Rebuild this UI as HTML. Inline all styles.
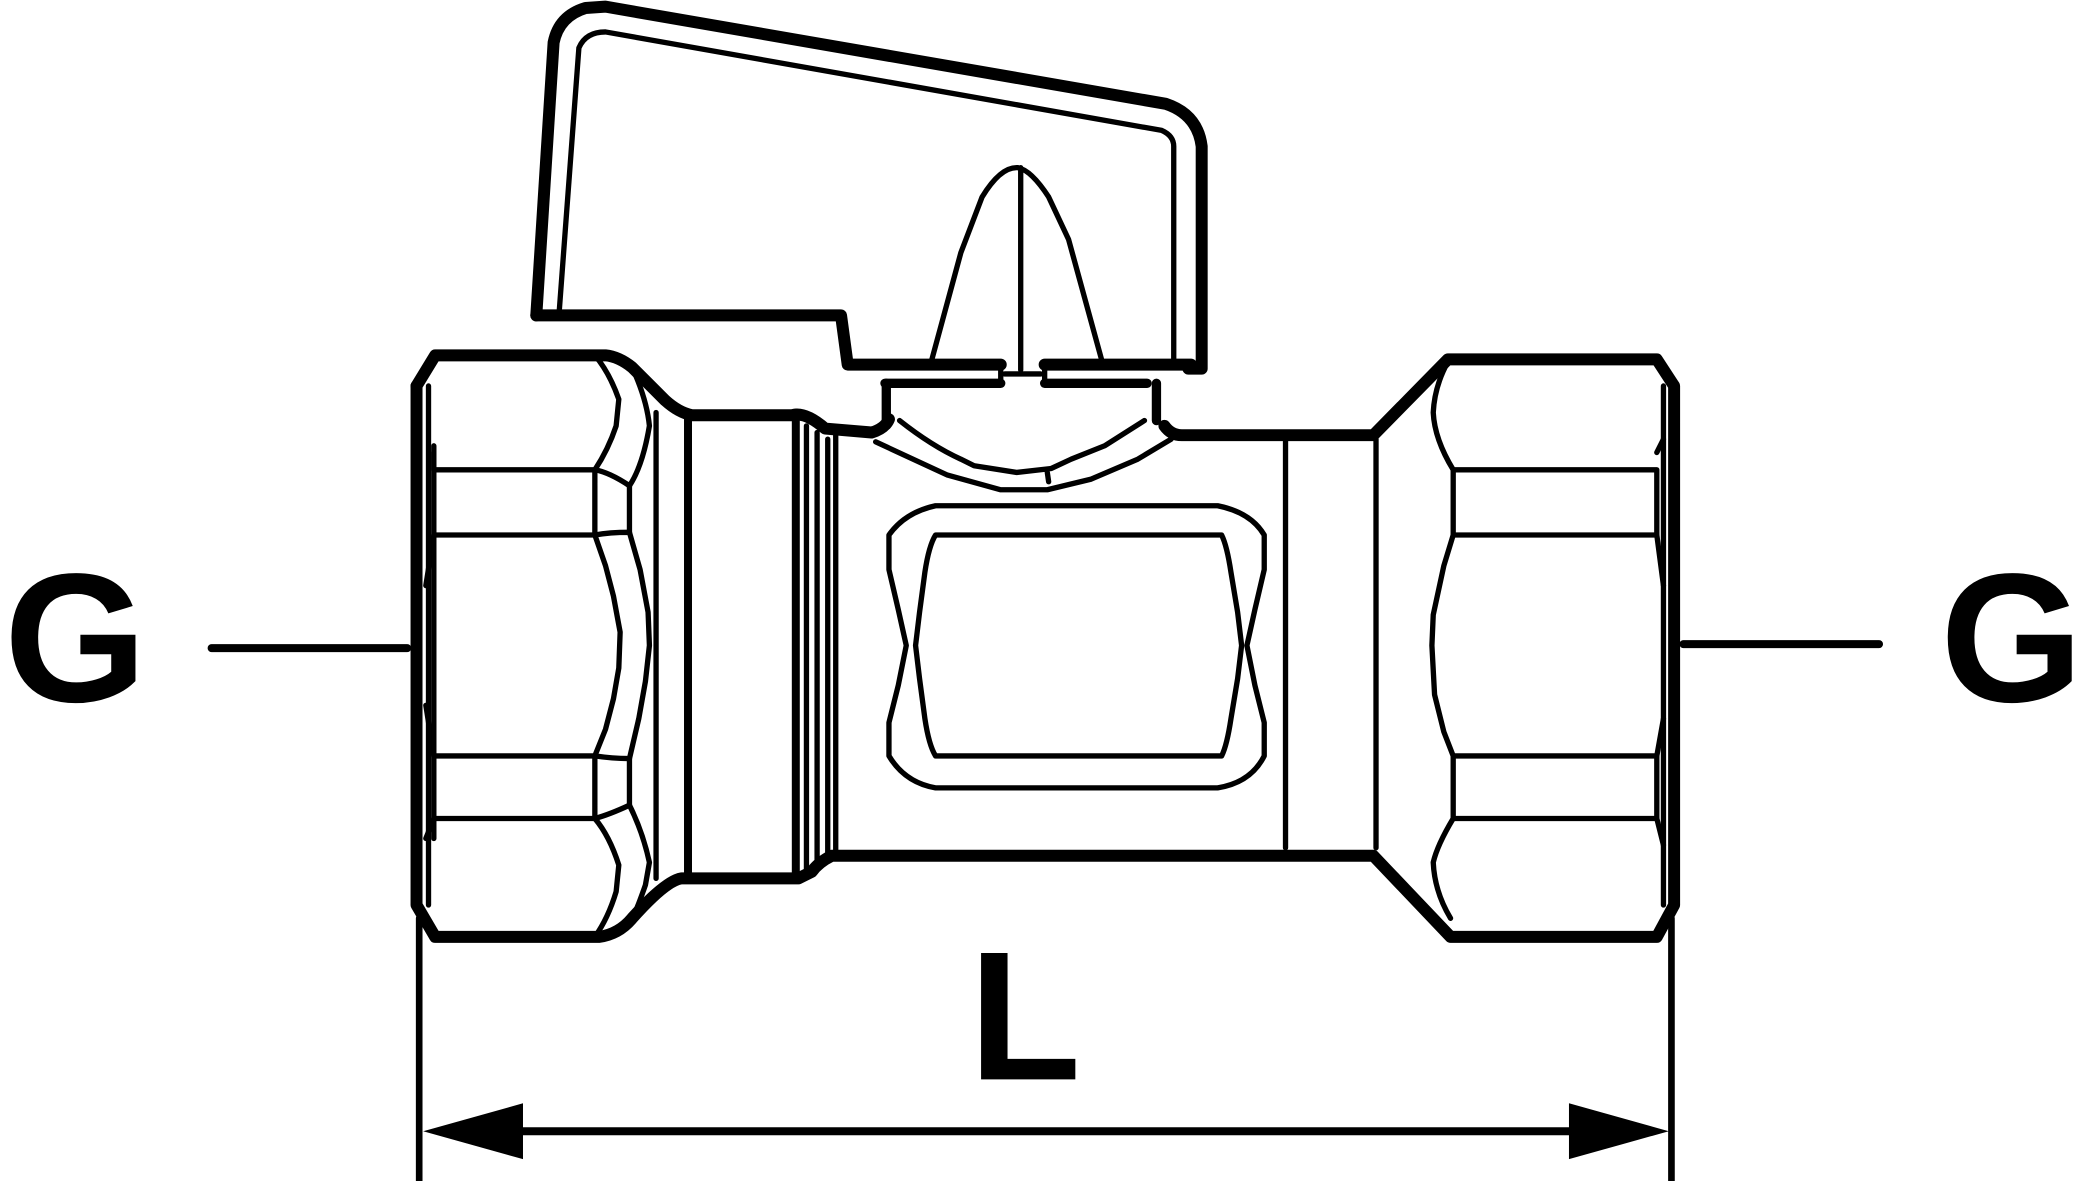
<!DOCTYPE html>
<html><head><meta charset="utf-8"><style>html,body{margin:0;padding:0;background:#fff}svg{display:block}</style></head><body>
<svg width="2076" height="1181" viewBox="0 0 1560 887.4" preserveAspectRatio="none" xmlns="http://www.w3.org/2000/svg">
<g fill="none" stroke="#000" stroke-linejoin="round" stroke-linecap="round">
<!-- handle -->
<path d="M403,237 L416,32 Q420,12 440,6 L455,5 L876,78 Q900,86 903,110 L903,277 L893,277" stroke-width="9"/>
<path d="M403,237 L632,237 L637,274 L752,274 M785,274 L895,274" stroke-width="9"/>
<path d="M420,237 L435,36 Q440,24 455,24 L873,98 Q882,102 882,110 L882,271" stroke-width="4"/>
<path d="M665,288 L752,288 M785,288 L862,288" stroke-width="7"/>
<path d="M752,274 L752,288 M785,274 L785,288 M755,281 L782,281" stroke-width="4"/>
<path d="M666,288 L666,316 M869,288 L869,316" stroke-width="7"/>
<path d="M700,271 L722,190 L738,148 Q752,125 765,126 Q775,128 788,148 L803,180 L828,271 M767,126 L767,278" stroke-width="4"/>
<!-- body outline -->
<path d="M313,290 L327,267 L455,267 Q465,268 475,276 L500,301 Q510,310 520,312 L595,312 Q605,309 620,322 L655,325 Q665,322 668,315" stroke-width="9"/>
<path d="M875,320 Q880,327 888,327 L1032,327 L1088,270 L1245,270 L1258,290 L1258,680 L1245,704 L1090,704 L1032,643 L625,643 Q615,648 610,655 L600,660 L512,660 Q500,662 475,690 Q465,702 450,704 L327,704 L313,680 L313,290" stroke-width="9"/>
<path d="M322,290 L322,680 M1250,290 L1250,680" stroke-width="4"/>
<!-- left nut details -->
<path d="M326,335 L326,630 M326,353 L447,353 M326,402 L447,402 M326,568 L447,568 M326,615 L447,615 M447,353 L447,402 M447,568 L447,615 M473,365 L473,400 M473,570 L473,605 M493,310 L493,660 M606,320 L606,655 M614,325 L614,650 M622,330 L622,645 M628,327 L628,640" stroke-width="4"/>
<path d="M517,310 L517,658 M598,310 L598,660" stroke-width="6"/>
<path d="M447,267 Q458,280 465,300 L463,320 Q457,338 447,353 Q458,355 473,365 Q483,350 488,320 Q486,300 475,276" stroke-width="4"/>
<path d="M447,402 Q458,400 473,400 L481,428 L487,460 L488,485 L485,512 L480,540 L473,570 Q460,570 447,568 L455,548 L461,525 L465,502 L466,475 L461,448 L455,425 Z" stroke-width="4"/>
<path d="M447,615 Q458,612 473,605 Q483,625 488,648 L485,665 Q478,685 475,690 M447,615 Q458,628 465,650 L463,670 Q457,690 447,704" stroke-width="4"/>
<path d="M326,340 L326,353 M326,402 L320,440 M326,568 L320,530 M326,615 L320,630" stroke-width="4"/>
<!-- right nut details -->
<path d="M966,328 L966,637 M1034,330 L1034,637 M1092,353 L1245,353 M1092,402 L1245,402 M1092,568 L1245,568 M1092,615 L1245,615 M1092,353 L1092,402 M1092,568 L1092,615 M1245,353 L1245,402 M1245,568 L1245,615" stroke-width="4"/>
<path d="M1088,272 Q1078,290 1077,310 Q1078,330 1092,353 M1092,402 L1085,425 L1077,462 L1076,485 L1078,522 L1085,550 L1092,568 M1092,615 Q1080,635 1077,648 Q1078,670 1090,690 M1245,340 L1250,330 M1245,402 L1250,440 M1245,568 L1250,540 M1245,615 L1250,635" stroke-width="4"/>
<!-- ball -->
<path d="M676,316 Q700,335 722,345 L732,350 L764,355 L790,352 L805,345 L830,335 L860,316 M658,332 L712,357 L752,368 L787,368 L820,360 L855,345 L880,330 M787,355 L788,362" stroke-width="4"/>
<path d="M703,380 L915,380 Q940,385 950,402 L950,428 L943,458 L937,485 L943,515 L950,543 L950,568 Q940,588 915,592 L703,592 Q680,588 668,568 L668,543 L675,515 L681,485 L675,458 L668,428 L668,402 Q680,385 703,380 Z" stroke-width="4"/>
<path d="M703,402 L918,402 Q922,410 925,430 L930,460 L933,485 L930,510 L925,540 Q922,560 918,568 L703,568 Q698,560 695,540 L691,510 L688,485 L691,460 L695,430 Q698,410 703,402 Z" stroke-width="4"/>
<!-- dimension -->
<path d="M315,690 L315,887 M1256,690 L1256,887" stroke-width="5"/>
<path d="M390,850 L1182,850 M159,487 L306,487 M1265,484 L1412,484" stroke-width="6"/>
</g>
<polygon points="318,850 393,829 393,871" fill="#000"/>
<polygon points="1254,850 1179,829 1179,871" fill="#000"/>
<g font-family="'Liberation Sans', sans-serif" font-weight="bold" fill="#000">
<text x="3" y="527" font-size="138">G</text>
<text x="1458" y="527" font-size="138">G</text>
<text x="728" y="811" font-size="138">L</text>
</g>
</svg>
</body></html>
